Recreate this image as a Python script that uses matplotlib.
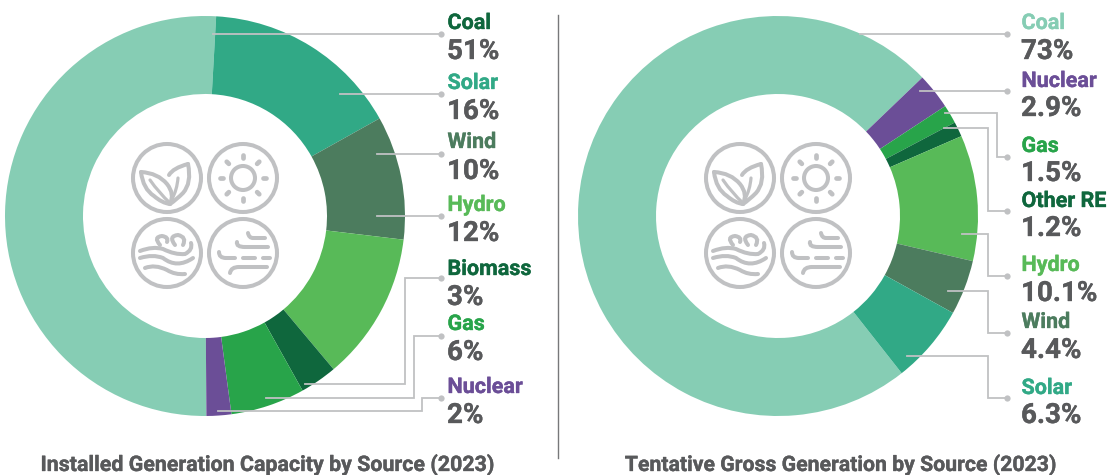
import numpy as np
import matplotlib
matplotlib.use('Agg')
import matplotlib.pyplot as plt
import matplotlib.patheffects as pe
from matplotlib.patches import Circle, PathPatch
from matplotlib.path import Path

plt.rcParams['font.family'] = ['Roboto', 'DejaVu Sans']

W, H = 1109, 475

left_names = ['Coal', 'Solar', 'Wind', 'Hydro', 'Biomass', 'Gas', 'Nuclear']
left_values = [51, 16, 10, 12, 3, 6, 2]
left_labels = ['51%', '16%', '10%', '12%', '3%', '6%', '2%']

right_names = ['Coal', 'Nuclear', 'Gas', 'Other RE', 'Hydro', 'Wind', 'Solar']
right_values = [73, 2.9, 1.5, 1.2, 10.1, 4.4, 6.3]
right_labels = ['73%', '2.9%', '1.5%', '1.2%', '10.1%', '4.4%', '6.3%']

left_title = 'Installed Generation Capacity by Source (2023)'
right_title = 'Tentative Gross Generation by Source (2023)'

colors = {'Coal': '#86cdb4', 'Solar': '#31a986', 'Wind': '#4c7c5e', 'Hydro': '#58ba58',
          'Biomass': '#0f673d', 'Other RE': '#0f673d', 'Gas': '#28a44a', 'Nuclear': '#6b4e97'}
GREY = '#c0c1c3'
DARK = '#58595b'

fig = plt.figure(figsize=(W / 100, H / 100), dpi=100)

# 整张图用像素坐标的一层，放引线、文字、图标
ov = fig.add_axes([0, 0, 1, 1], zorder=2)
ov.set_xlim(0, W)
ov.set_ylim(H, 0)
ov.axis('off')
ov.patch.set_alpha(0)


def donut(cx, cy, r, values, names, start):
    ax = fig.add_axes([(cx - r) / W, 1 - (cy + r) / H, 2 * r / W, 2 * r / H], zorder=1)
    ax.pie(values, colors=[colors[n] for n in names], startangle=start, counterclock=False,
           radius=1, wedgeprops=dict(width=0.39, linewidth=0))
    ax.set_xlim(-1, 1)
    ax.set_ylim(-1, 1)


donut(205, 216, 200, left_values, left_names, 270.4)
donut(778, 216, 200, right_values, right_names, 308.2)


def leader(pts):
    xs, ys = zip(*pts)
    ov.plot(xs, ys, color=GREY, lw=1.3, solid_joinstyle='miter')
    ov.plot(xs[-1], ys[-1], 'o', color=GREY, ms=4.5, mew=0)


left_leaders = [
    [(213, 34), (441, 34)],
    [(340, 94), (441, 94)],
    [(377, 154), (441, 154)],
    [(377, 216), (441, 216)],
    [(305, 384), (405, 384), (405, 278), (441, 278)],
    [(266, 398), (414, 398), (414, 336), (441, 336)],
    [(218, 411), (422, 411), (422, 398), (441, 398)],
]
right_leaders = [
    [(860, 34), (1007, 34)],
    [(920, 91), (1007, 91)],
    [(945, 113), (997, 113), (997, 157), (1007, 157)],
    [(944, 128), (988, 128), (988, 211), (1007, 211)],
    [(962, 234), (988, 234), (988, 276), (1007, 276)],
    [(948, 291), (988, 291), (988, 333), (1007, 333)],
    [(907, 356), (988, 356), (988, 398), (1007, 398)],
]
for pts in left_leaders + right_leaders:
    leader(pts)

# 文字基线的y
left_y = [(29, 59), (89, 119), (148, 179), (211, 241), (275, 305), (330, 360), (393, 423)]
right_y = [(29, 59), (87, 116), (152, 181), (207, 236), (271, 301), (328, 358), (394, 423)]


def label(x, y, s, c, size, ha='left'):
    t = ov.text(x, y, s, color=c, fontsize=size, fontweight='bold', va='baseline', ha=ha)
    t.set_path_effects([pe.withStroke(linewidth=0.25, foreground=c)])


for name, lab, (y1, y2) in zip(left_names, left_labels, left_y):
    c = '#0f673d' if name == 'Coal' else colors[name]
    label(447.5, y1, name, c, 15.5)
    label(447, y2, lab, DARK, 20)
for name, lab, (y1, y2) in zip(right_names, right_labels, right_y):
    label(1021.5, y1, name, colors[name], 15.5)
    label(1021, y2, lab, DARK, 20)

label(267.5, 471, left_title, DARK, 15.4, 'center')
label(840.5, 471, right_title, DARK, 15.3, 'center')
ov.plot([558.2, 558.2], [15, 458], color='#77787a', lw=1)


def stroke(verts, lw=2.9):
    xs, ys = zip(*verts)
    ov.plot(xs, ys, color=GREY, lw=lw, solid_capstyle='round', solid_joinstyle='round')


def curve(x0, y0, verts, lw=2.9):
    # verts是相对图标中心的二次贝塞尔控制点
    v = [(x0 + a, y0 + b) for a, b in verts]
    codes = [Path.MOVETO] + [Path.CURVE3] * (len(v) - 1)
    ov.add_patch(PathPatch(Path(v, codes), fc='none', ec=GREY, lw=lw, capstyle='round'))


def icons(dx):
    for cx, cy in [(167, 178), (243, 178), (167, 253), (243, 253)]:
        ov.add_patch(Circle((cx + dx, cy), 34, fc='none', ec=GREY, lw=2.9))
    # 叶子
    x, y = 167 + dx, 178
    curve(x, y, [(-26, -6), (-24, 11), (-13, 18), (-5, 25), (3, 26)])
    curve(x, y, [(-26, -6), (-9, -5), (0, 6), (8, 16), (3, 26)])
    curve(x, y, [(-17, 2), (-8, 15), (3, 25)], 2.3)
    curve(x, y, [(2, -3), (6, -10), (21, -14)])
    curve(x, y, [(21, -14), (25, 5), (16, 15), (9, 22), (3, 26)])
    curve(x, y, [(11, 0), (10, 12), (5, 21)], 2.3)
    # 太阳
    x, y = 243 + dx, 178
    ov.add_patch(Circle((x, y), 12, fc='none', ec=GREY, lw=2.9))
    for a in np.arange(0, 360, 45):
        t = np.radians(a)
        stroke([(x + 20 * np.cos(t), y + 20 * np.sin(t)), (x + 23 * np.cos(t), y + 23 * np.sin(t))], 3.4)
    # 水
    x, y = 167 + dx, 253
    curve(x, y, [(-27, -2), (-14, -7), (-4, -4), (8, 2), (18, 1), (26, -3), (24, -10)])
    curve(x, y, [(-7, -8), (-14, -16), (-5, -17), (2, -16), (0, -11)])
    curve(x, y, [(8, -8), (1, -17), (11, -18), (20, -16), (16, -8)])
    curve(x, y, [(-27, 5), (-14, 1), (-4, 5), (10, 16), (26, 5)])
    curve(x, y, [(-22, 15), (-12, 11), (0, 17), (8, 22), (18, 21)])
    # 风
    x, y = 243 + dx, 253
    curve(x, y, [(5, -20), (6, -15), (10, -15), (16, -15), (22, -15)])
    curve(x, y, [(-6, -11), (-7, -6), (2, -6), (14, -6), (25, -6)])
    curve(x, y, [(-24, -1), (-24, 5), (-17, 5), (-12, 5), (-8, 5)])
    stroke([(x, y + 5), (x + 12, y + 5)])
    stroke([(x + 20, y + 5), (x + 27, y + 5)])
    curve(x, y, [(-13, 20), (-12, 14), (-4, 14), (10, 14), (24, 14)])


icons(0)
icons(573)

fig.savefig('out.png', dpi=100)
